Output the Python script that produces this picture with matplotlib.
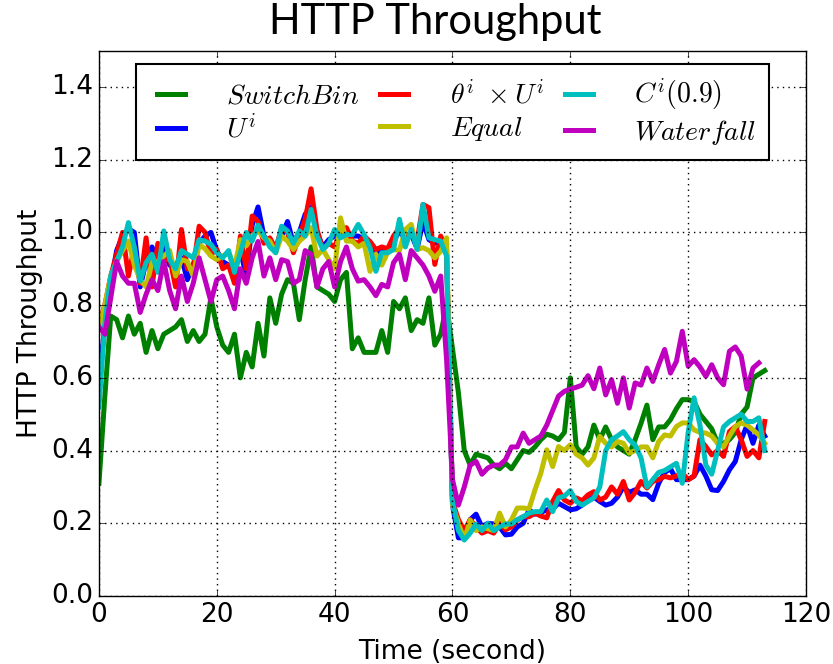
import numpy as np
import matplotlib
matplotlib.use("Agg")
import matplotlib.pyplot as plt

# Throughput samples, one per second
switchbin = [
    0.31, 0.55, 0.77, 0.76, 0.71, 0.77, 0.72, 0.75, 0.67, 0.73,
    0.68, 0.72, 0.73, 0.74, 0.76, 0.70, 0.73, 0.70, 0.72, 0.82,
    0.74, 0.69, 0.67, 0.72, 0.60, 0.67, 0.63, 0.75, 0.66, 0.82,
    0.75, 0.83, 0.87, 0.86, 0.76, 0.87, 0.96, 0.85, 0.84, 0.83,
    0.81, 0.87, 0.89, 0.68, 0.71, 0.67, 0.67, 0.67, 0.73, 0.67,
    0.81, 0.79, 0.82, 0.73, 0.76, 0.75, 0.82, 0.69, 0.72, 0.80,
    0.68, 0.56, 0.40, 0.36, 0.39, 0.385, 0.38, 0.36, 0.35, 0.365,
    0.35, 0.375, 0.40, 0.395, 0.41, 0.43, 0.445, 0.44, 0.43, 0.45,
    0.60, 0.41, 0.39, 0.41, 0.47, 0.43, 0.465, 0.43, 0.41, 0.40,
    0.39, 0.43, 0.475, 0.525, 0.43, 0.465, 0.465, 0.485, 0.515, 0.54,
    0.54, 0.535, 0.50, 0.48, 0.46, 0.42, 0.42, 0.43, 0.45, 0.50,
    0.52, 0.60, 0.61, 0.62,
]

u_i = [
    0.60, 0.74, 0.86, 0.95, 0.99, 1.01, 1.00, 0.85, 0.92, 0.96,
    0.92, 0.96, 0.91, 0.91, 0.93, 0.87, 0.91, 0.97, 0.99, 1.00,
    0.95, 0.92, 0.91, 0.90, 0.95, 0.88, 1.02, 1.07, 0.99, 0.97,
    0.96, 0.99, 1.03, 0.97, 1.00, 1.05, 1.07, 1.00, 0.96, 0.98,
    0.99, 0.99, 1.00, 0.99, 0.99, 0.98, 0.965, 0.93, 0.955, 0.955,
    0.975, 1.005, 0.98, 0.995, 0.955, 1.03, 0.98, 0.97, 0.98, 0.94,
    0.25, 0.16, 0.16, 0.21, 0.225, 0.19, 0.20, 0.198, 0.19, 0.168,
    0.17, 0.19, 0.20, 0.237, 0.225, 0.23, 0.237, 0.24, 0.255, 0.246,
    0.237, 0.24, 0.25, 0.264, 0.272, 0.26, 0.25, 0.255, 0.272, 0.30,
    0.285, 0.292, 0.28, 0.28, 0.265, 0.31, 0.34, 0.35, 0.32, 0.32,
    0.32, 0.33, 0.36, 0.33, 0.292, 0.29, 0.315, 0.347, 0.37, 0.43,
    0.47, 0.42, 0.47, 0.44,
]

theta_u = [
    0.75, 0.80, 0.88, 0.94, 1.00, 0.88, 0.96, 0.86, 0.985, 0.85,
    0.97, 0.92, 0.93, 0.85, 1.008, 0.90, 0.90, 1.017, 1.00, 0.94,
    0.953, 0.90, 0.91, 0.86, 0.99, 0.90, 1.045, 1.03, 0.97, 0.985,
    0.955, 1.013, 1.00, 0.944, 0.99, 1.036, 1.12, 1.008, 0.953, 0.97,
    0.96, 1.004, 1.013, 0.976, 0.97, 0.99, 0.975, 0.953, 0.96, 0.955,
    0.99, 1.013, 0.99, 1.00, 0.976, 1.077, 1.068, 0.912, 0.99, 0.95,
    0.26, 0.21, 0.18, 0.21, 0.19, 0.173, 0.18, 0.173, 0.20, 0.182,
    0.19, 0.209, 0.218, 0.218, 0.228, 0.22, 0.215, 0.26, 0.29, 0.264,
    0.255, 0.27, 0.262, 0.278, 0.287, 0.264, 0.272, 0.30, 0.28, 0.315,
    0.264, 0.285, 0.315, 0.297, 0.315, 0.32, 0.329, 0.325, 0.33, 0.338,
    0.32, 0.33, 0.43, 0.411, 0.388, 0.40, 0.384, 0.452, 0.466, 0.43,
    0.384, 0.40, 0.38, 0.48,
]

equal = [
    0.74, 0.80, 0.88, 0.92, 0.95, 0.976, 0.91, 0.87, 0.85, 0.917,
    0.92, 0.935, 0.95, 0.88, 0.925, 0.92, 0.88, 0.967, 0.955, 0.935,
    0.925, 0.935, 0.944, 0.905, 0.98, 0.963, 0.99, 1.004, 0.985, 0.976,
    0.944, 0.99, 0.976, 0.953, 0.976, 0.99, 1.013, 0.935, 0.953, 0.925,
    0.90, 1.04, 0.976, 0.976, 0.96, 0.97, 0.893, 0.94, 0.91, 0.945,
    0.953, 0.95, 1.008, 1.022, 0.953, 0.958, 0.95, 0.93, 0.948, 0.985,
    0.25, 0.20, 0.155, 0.209, 0.18, 0.19, 0.185, 0.18, 0.228, 0.19,
    0.209, 0.242, 0.242, 0.24, 0.292, 0.338, 0.402, 0.356, 0.411, 0.40,
    0.416, 0.39, 0.38, 0.36, 0.38, 0.439, 0.42, 0.41, 0.425, 0.42,
    0.393, 0.40, 0.41, 0.41, 0.38, 0.425, 0.443, 0.44, 0.466, 0.476,
    0.476, 0.457, 0.45, 0.448, 0.44, 0.42, 0.41, 0.44, 0.466, 0.476,
    0.47, 0.457, 0.443, 0.42,
]

c_09 = [
    0.52, 0.75, 0.88, 0.92, 0.96, 1.027, 0.96, 0.866, 0.917, 0.94,
    0.89, 1.004, 0.925, 0.90, 0.95, 0.94, 0.93, 0.98, 0.976, 0.967,
    0.944, 0.93, 0.95, 0.89, 0.944, 1.00, 0.976, 1.02, 0.99, 0.96,
    0.944, 1.017, 1.004, 0.97, 1.004, 0.99, 1.063, 0.99, 0.953, 0.97,
    1.008, 0.985, 0.994, 0.994, 1.022, 0.994, 0.958, 0.893, 0.944, 0.944,
    0.953, 1.036, 0.96, 1.008, 0.953, 1.077, 0.985, 0.98, 0.976, 0.935,
    0.26, 0.18, 0.154, 0.173, 0.198, 0.18, 0.20, 0.18, 0.19, 0.198,
    0.198, 0.21, 0.218, 0.228, 0.232, 0.232, 0.264, 0.232, 0.27, 0.275,
    0.29, 0.26, 0.25, 0.26, 0.27, 0.30, 0.40, 0.43, 0.44, 0.452,
    0.43, 0.415, 0.38, 0.30, 0.32, 0.34, 0.345, 0.355, 0.365, 0.31,
    0.45, 0.545, 0.47, 0.36, 0.335, 0.40, 0.465, 0.48, 0.49, 0.50,
    0.48, 0.48, 0.49, 0.40,
]

waterfall = [
    0.74, 0.72, 0.82, 0.92, 0.88, 0.86, 0.86, 0.78, 0.83, 0.87,
    0.84, 0.92, 0.84, 0.79, 0.88, 0.81, 0.86, 0.93, 0.87, 0.81,
    0.87, 0.88, 0.84, 0.79, 0.90, 0.86, 0.93, 0.975, 0.88, 0.93,
    0.87, 0.925, 0.92, 0.86, 0.87, 0.95, 0.94, 0.85, 0.90, 0.92,
    0.85, 0.92, 0.96, 0.90, 0.866, 0.87, 0.85, 0.826, 0.857, 0.85,
    0.917, 0.94, 0.87, 0.95, 0.93, 0.91, 0.88, 0.838, 0.88, 0.65,
    0.32, 0.25, 0.30, 0.36, 0.37, 0.335, 0.352, 0.36, 0.36, 0.375,
    0.41, 0.41, 0.448, 0.42, 0.43, 0.44, 0.47, 0.51, 0.55, 0.563,
    0.569, 0.574, 0.58, 0.606, 0.57, 0.627, 0.553, 0.595, 0.53, 0.60,
    0.517, 0.586, 0.58, 0.627, 0.59, 0.636, 0.678, 0.613, 0.645, 0.728,
    0.632, 0.65, 0.63, 0.604, 0.636, 0.60, 0.581, 0.673, 0.685, 0.66,
    0.569, 0.627, 0.641,
]

series = [
    (switchbin, "g", r"$SwitchBin$"),
    (u_i, "b", r"$U^i$"),
    (theta_u, "r", r"$\theta^i\ \times U^i$"),
    (equal, "y", r"$Equal$"),
    (c_09, "c", r"$C^i(0.9)$"),
    (waterfall, "m", r"$Waterfall$"),
]

plt.style.use("classic")
plt.rcParams["mathtext.fontset"] = "cm"
plt.rcParams["font.family"] = "DejaVu Sans"

fig = plt.figure(figsize=(8.33, 6.64), dpi=100)
fig.patch.set_facecolor("white")
ax = fig.add_axes([0.1188, 0.1024, 0.8488, 0.8214])

for values, color, label in series:
    t = np.arange(len(values))
    ax.plot(t, values, color=color, linewidth=3.6, label=label)

ax.set_xlim(0, 120)
ax.set_ylim(0, 1.5)
ax.set_xticks(np.arange(0, 121, 20))
ax.set_yticks(np.arange(0, 1.41, 0.2))
ax.set_yticklabels([f"{v:.1f}" for v in np.arange(0, 1.41, 0.2)])
ax.tick_params(labelsize=19)
ax.grid(True, color="k", linestyle=":", linewidth=1)
ax.set_xlabel("Time (second)", fontsize=19, labelpad=8)
ax.set_ylabel("HTTP Throughput", fontsize=19, labelpad=6)

leg = ax.legend(loc="upper center", ncol=3, fontsize=20, handlelength=1.6,
                handletextpad=1.2, columnspacing=0.45, borderpad=0.45,
                labelspacing=0.15, fancybox=False, bbox_to_anchor=(0.5, 1.0))
leg.get_frame().set_edgecolor("k")
leg.get_frame().set_linewidth(1.5)

fig.text(0.523, 0.967, "HTTP Throughput", fontsize=30, family="Lato",
         ha="center", va="center")

fig.savefig("out.png", dpi=100, facecolor="white")
